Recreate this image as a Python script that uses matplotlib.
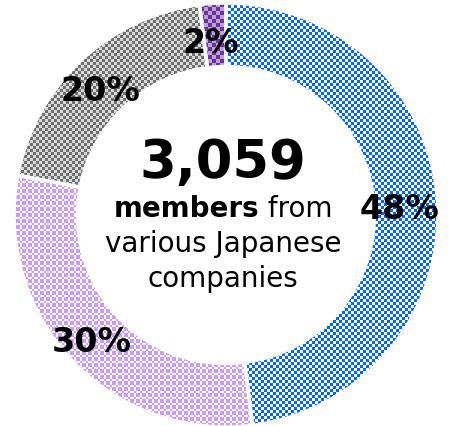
import numpy as np
import matplotlib
matplotlib.use("Agg")
import matplotlib.pyplot as plt
from matplotlib.patches import Wedge

# ---- data ----
categories = ["Group A", "Group B", "Group C", "Group D"]
shares = [48, 30, 20, 2]
total_members = "3,059"
center_bold = "members"
center_rest = "from"
center_lines = ["various Japanese", "companies"]

W, H = 449, 427
plt.rcParams['font.family'] = ['DejaVu Sans']
fig = plt.figure(figsize=(W / 100, H / 100), dpi=100)
ax = fig.add_axes([0, 0, 1, 1])

cx, cy_px, R = 226, 216, 212
cy = H - cy_px
width_frac = 0.30
explode = [0.022, 0.022, 0.022, 0.022]
label_shift = (-4, -5)  # small uniform nudge of the percentage labels (px)

# pattern colours (fg, bg) and cell sizes
pat_styles = [
    ("#0066ff", "#ffffff", 3, "checker"),
    ("#cc99ff", "#ffffff", 2, "odd"),
    ("#6f6f6f", "#d9d9d9", 3, "checker"),
    ("#7030a0", "#b9a3d3", 4, "checker"),
]
avg_colors = ["#7fb2ff", "#e5ccff", "#a4a4a4", "#9469ba"]

wedges, texts, autotexts = ax.pie(
    shares, startangle=90, counterclock=False, radius=R, center=(cx, cy),
    explode=explode, colors=avg_colors,
    wedgeprops=dict(width=R * width_frac, edgecolor="white", linewidth=0),
    autopct=lambda p: f"{p:.0f}%", pctdistance=0.84,
    textprops=dict(fontsize=24, fontweight="bold", color="black"),
    frame=True,
)

I, J = np.mgrid[0:H, 0:W]

def to_rgb(c):
    return np.array(matplotlib.colors.to_rgb(c))

for w, (fg, bg, cell, kind) in zip(wedges, pat_styles):
    if kind == "checker":
        mask = ((I // cell + J // cell) % 2) == 0
    else:
        mask = (((I // cell) % 3 + (J // cell) % 3) % 2) == 0
    img = np.where(mask[..., None], to_rgb(fg), to_rgb(bg))
    im = ax.imshow(img, extent=(0, W, 0, H), origin="upper",
                   interpolation="nearest", zorder=2)
    im.set_clip_path(w)
    # white separator outline on top of the pattern
    ol = Wedge(w.center, w.r, w.theta1, w.theta2, width=w.width,
               facecolor="none", edgecolor="white", linewidth=2.5, zorder=3)
    ax.add_patch(ol)

for t in autotexts:
    x, y = t.get_position()
    t.set_position((x + label_shift[0], y + label_shift[1]))
    t.set_zorder(5)

ax.set_xlim(0, W)
ax.set_ylim(0, H)
ax.set_aspect("auto")
ax.axis("off")

# centre text
ax.text(cx - 3, H - 178, total_members, ha="center", va="baseline",
        fontsize=38, fontweight="bold", zorder=6)

fig.canvas.draw()
r = fig.canvas.get_renderer()
tb = ax.text(0, H - 217, center_bold, ha="left", va="baseline",
             fontsize=20, fontweight="bold", zorder=6)
tr = ax.text(0, H - 217, " " + center_rest, ha="left", va="baseline",
             fontsize=20, zorder=6)
wb = tb.get_window_extent(r).width
wr = tr.get_window_extent(r).width
x0 = cx - 3 - (wb + wr) / 2
tb.set_x(x0)
tr.set_x(x0 + wb)
for k, line in enumerate(center_lines):
    ax.text(cx - 3, H - 252 - 35 * k, line, ha="center", va="baseline",
            fontsize=20, zorder=6)

fig.savefig("out.png", dpi=100)
